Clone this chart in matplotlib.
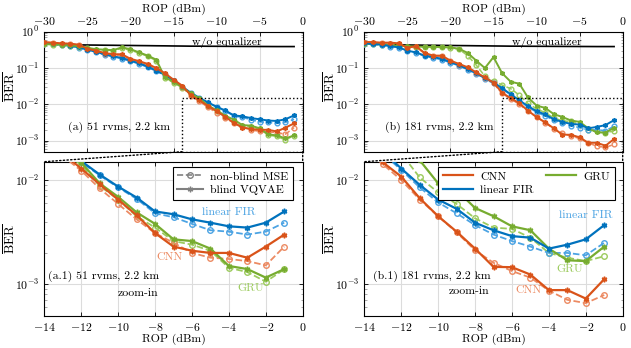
import matplotlib
matplotlib.use("Agg")
import matplotlib.pyplot as plt
from matplotlib.lines import Line2D
from matplotlib.patches import Rectangle, ConnectionPatch

plt.rcParams["font.family"] = "serif"
plt.rcParams["font.serif"] = ["cmr10"]
plt.rcParams["mathtext.fontset"] = "cm"
plt.rcParams["axes.formatter.use_mathtext"] = True
plt.rcParams["axes.unicode_minus"] = False
plt.rcParams["font.size"] = 8.5

# ROP points (dBm)
rop = list(range(-30, 0))

# ---- (a) 51 rvms, 2.2 km ----
wo_eq_a = [0.47, 0.46, 0.45, 0.44, 0.435, 0.43, 0.428, 0.425, 0.423, 0.42,
           0.418, 0.415, 0.413, 0.41, 0.408, 0.405, 0.403, 0.40, 0.40, 0.398,
           0.397, 0.396, 0.395, 0.394, 0.393, 0.392, 0.391, 0.39, 0.39, 0.39]
cnn_blind_a = [0.52, 0.50, 0.48, 0.47, 0.44, 0.34, 0.30, 0.26, 0.24, 0.24,
               0.18, 0.155, 0.13, 0.10, 0.072, 0.048, 0.033, 0.018, 0.0129, 0.0091,
               0.0065, 0.0046, 0.0031, 0.0023, 0.0021, 0.0020, 0.0020, 0.0018, 0.0023, 0.0030]
cnn_mse_a = [0.50, 0.48, 0.46, 0.45, 0.42, 0.33, 0.29, 0.25, 0.23, 0.22,
             0.17, 0.145, 0.12, 0.095, 0.068, 0.045, 0.031, 0.017, 0.0123, 0.0083,
             0.0059, 0.0042, 0.0031, 0.0025, 0.0020, 0.0018, 0.00175, 0.00167, 0.00152, 0.0023]
fir_blind_a = [0.49, 0.46, 0.44, 0.41, 0.37, 0.32, 0.28, 0.24, 0.21, 0.19,
               0.16, 0.135, 0.11, 0.085, 0.065, 0.046, 0.031, 0.021, 0.0152, 0.0113,
               0.00865, 0.0068, 0.0050, 0.0047, 0.0042, 0.0039, 0.0036, 0.0035, 0.0039, 0.0050]
fir_mse_a = [0.47, 0.45, 0.43, 0.40, 0.36, 0.31, 0.27, 0.23, 0.205, 0.18,
             0.155, 0.13, 0.105, 0.082, 0.063, 0.045, 0.030, 0.020, 0.0148, 0.0111,
             0.0085, 0.0066, 0.0048, 0.0044, 0.0038, 0.0033, 0.0032, 0.0030, 0.0032, 0.0039]
gru_blind_a = [0.46, 0.45, 0.44, 0.42, 0.40, 0.36, 0.33, 0.32, 0.31, 0.37,
               0.33, 0.27, 0.22, 0.17, 0.055, 0.042, 0.030, 0.020, 0.0147, 0.0093,
               0.0069, 0.0049, 0.0038, 0.0027, 0.0026, 0.0022, 0.0015, 0.0014, 0.00116, 0.0014]
gru_mse_a = [0.45, 0.44, 0.43, 0.41, 0.39, 0.35, 0.32, 0.31, 0.30, 0.35,
             0.31, 0.26, 0.21, 0.16, 0.052, 0.040, 0.029, 0.019, 0.0139, 0.0088,
             0.0065, 0.0045, 0.0035, 0.0026, 0.0024, 0.0021, 0.00144, 0.00131, 0.00106, 0.00139]

# ---- (b) 181 rvms, 2.2 km ----
wo_eq_b = [0.47, 0.46, 0.45, 0.44, 0.435, 0.43, 0.428, 0.425, 0.423, 0.42,
           0.418, 0.415, 0.413, 0.41, 0.408, 0.405, 0.403, 0.40, 0.40, 0.398,
           0.397, 0.396, 0.395, 0.394, 0.393, 0.392, 0.391, 0.39, 0.39, 0.39]
cnn_blind_b = [0.52, 0.52, 0.50, 0.50, 0.48, 0.36, 0.40, 0.26, 0.22, 0.22,
               0.16, 0.13, 0.105, 0.076, 0.055, 0.040, 0.021, 0.0148, 0.0108, 0.0067,
               0.0045, 0.0032, 0.0022, 0.00147, 0.00146, 0.00124, 0.00088, 0.00088, 0.00073, 0.00112]
cnn_mse_b = [0.50, 0.49, 0.48, 0.47, 0.45, 0.34, 0.38, 0.25, 0.21, 0.21,
             0.155, 0.125, 0.10, 0.072, 0.052, 0.038, 0.020, 0.0142, 0.0100, 0.0065,
             0.0045, 0.00315, 0.00212, 0.00161, 0.00134, 0.00116, 0.00087, 0.00071, 0.00066, 0.00079]
fir_blind_b = [0.48, 0.46, 0.44, 0.40, 0.37, 0.30, 0.27, 0.22, 0.20, 0.18,
               0.145, 0.12, 0.094, 0.072, 0.053, 0.040, 0.028, 0.019, 0.0129, 0.0090,
               0.0065, 0.0053, 0.0039, 0.0033, 0.0029, 0.0028, 0.0022, 0.0024, 0.0027, 0.0037]
fir_mse_b = [0.47, 0.45, 0.43, 0.39, 0.36, 0.29, 0.26, 0.21, 0.19, 0.17,
             0.14, 0.115, 0.09, 0.069, 0.050, 0.038, 0.027, 0.018, 0.0125, 0.0085,
             0.0061, 0.0048, 0.0037, 0.0030, 0.0026, 0.0023, 0.0020, 0.0020, 0.0019, 0.0025]
gru_blind_b = [0.47, 0.46, 0.45, 0.43, 0.41, 0.40, 0.39, 0.385, 0.38, 0.38,
               0.37, 0.34, 0.26, 0.16, 0.10, 0.20, 0.072, 0.042, 0.037, 0.0155,
               0.0093, 0.0080, 0.0054, 0.0045, 0.0036, 0.0033, 0.0022, 0.0017, 0.00167, 0.0023]
gru_mse_b = [0.46, 0.45, 0.44, 0.42, 0.40, 0.39, 0.38, 0.375, 0.37, 0.37,
             0.36, 0.33, 0.22, 0.12, 0.06, 0.045, 0.034, 0.027, 0.018, 0.0106,
             0.0076, 0.0059, 0.0043, 0.0035, 0.0034, 0.0028, 0.0020, 0.0018, 0.00167, 0.00186]

C_CNN, C_CNN_L = "#D95319", "#EC8A62"
C_FIR, C_FIR_L = "#0072BD", "#4BA3E3"
C_GRU, C_GRU_L = "#77AC30", "#9CCB5E"
GRID = "#dcdcdc"
STAR = (6, 2, 0)

TOP_YLIM = (5e-4, 1.0)
ZOOM_XLIM = (-14, 0)
ZOOM_YLIM = (5e-4, 1.5e-2)
BER_LABEL = r"$\overline{\mathrm{BER}}$"


def style_axes(ax):
    ax.set_yscale("log")
    ax.grid(True, which="major", color=GRID, lw=0.8)
    ax.set_axisbelow(True)
    ax.tick_params(which="both", direction="in", top=True, right=True,
                   labelsize=8.5, width=0.6)
    ax.tick_params(which="major", length=3)
    ax.tick_params(which="minor", length=1.8, color="#999999")
    for s in ax.spines.values():
        s.set_linewidth(0.8)


def draw_series(ax, series, ms, lw):
    for mse, blind, cl, cd in series:
        ax.plot(rop, mse, ls="--", color=cl, lw=lw * 0.8, marker="o", ms=ms,
                mfc="none", mew=1.0, zorder=3)
        ax.plot(rop, blind, ls="-", color=cd, lw=lw, marker=STAR, ms=ms,
                mew=1.1, zorder=4)


def top_panel(ax, wo_eq, series, label):
    style_axes(ax)
    ax.plot(rop, wo_eq, color="black", lw=1.2, zorder=2)
    draw_series(ax, series, ms=3.4, lw=1.4)
    ax.set_xlim(-30, 0)
    ax.set_ylim(*TOP_YLIM)
    ax.set_xticks(range(-30, 1, 5))
    ax.xaxis.tick_top()
    ax.xaxis.set_label_position("top")
    ax.tick_params(which="both", bottom=True)
    ax.set_xlabel("ROP (dBm)", labelpad=2)
    ax.set_ylabel(BER_LABEL, fontsize=9.5)
    ax.yaxis.set_label_coords(-0.102, 0.54)
    ax.text(-8.8, 0.51, "w/o equalizer", ha="center", va="center")
    ax.text(-21.3, 2.4e-3, label, ha="center", va="center")
    ax.add_patch(Rectangle((ZOOM_XLIM[0], ZOOM_YLIM[0]),
                           ZOOM_XLIM[1] - ZOOM_XLIM[0], ZOOM_YLIM[1] - ZOOM_YLIM[0],
                           fill=False, ls=":", lw=1.0, color="black", zorder=5))


def zoom_panel(ax, series):
    style_axes(ax)
    draw_series(ax, series, ms=4.0, lw=1.6)
    ax.set_xlim(*ZOOM_XLIM)
    ax.set_ylim(*ZOOM_YLIM)
    ax.set_xticks(range(-14, 1, 2))
    ax.set_xlabel("ROP (dBm)", labelpad=1)
    ax.set_ylabel(BER_LABEL, fontsize=9.5)
    ax.yaxis.set_label_coords(-0.102, 0.5)


fig = plt.figure(figsize=(6.31, 3.48), dpi=100)
W, H = 631, 348


def px_axes(x0, y0, x1, y1):
    return fig.add_axes([x0 / W, 1 - y1 / H, (x1 - x0) / W, (y1 - y0) / H])


ax_a = px_axes(44.3, 31.7, 302.7, 151.7)
ax_a1 = px_axes(44.3, 161.7, 302.7, 315.7)
ax_b = px_axes(364.3, 31.7, 622.7, 151.7)
ax_b1 = px_axes(364.3, 161.7, 622.7, 315.7)

series_a = [(fir_mse_a, fir_blind_a, C_FIR_L, C_FIR),
            (gru_mse_a, gru_blind_a, C_GRU_L, C_GRU),
            (cnn_mse_a, cnn_blind_a, C_CNN_L, C_CNN)]
series_b = [(gru_mse_b, gru_blind_b, C_GRU_L, C_GRU),
            (fir_mse_b, fir_blind_b, C_FIR_L, C_FIR),
            (cnn_mse_b, cnn_blind_b, C_CNN_L, C_CNN)]

top_panel(ax_a, wo_eq_a, series_a, "(a) 51 rvms, 2.2 km")
top_panel(ax_b, wo_eq_b, series_b, "(b) 181 rvms, 2.2 km")
zoom_panel(ax_a1, series_a)
zoom_panel(ax_b1, series_b)

# zoom-in annotations (a.1)
ax_a1.text(-10.8, 1.18e-3, "(a.1) 51 rvms, 2.2 km", ha="center", va="center")
ax_a1.text(-8.9, 8.2e-4, "zoom-in", ha="center", va="center")
ax_a1.text(-3.98, 4.9e-3, "linear FIR", color=C_FIR_L, ha="center", va="center")
ax_a1.text(-7.2, 1.8e-3, "CNN", color=C_CNN_L, ha="center", va="center")
ax_a1.text(-2.84, 9.1e-4, "GRU", color=C_GRU_L, ha="center", va="center")

# zoom-in annotations (b.1)
ax_b1.text(-10.35, 1.18e-3, "(b.1) 181 rvms, 2.2 km", ha="center", va="center")
ax_b1.text(-8.3, 8.5e-4, "zoom-in", ha="center", va="center")
ax_b1.text(-2.0, 4.6e-3, "linear FIR", color=C_FIR_L, ha="center", va="center")
ax_b1.text(-2.86, 1.41e-3, "GRU", color=C_GRU_L, ha="center", va="center")
ax_b1.text(-5.08, 8.8e-4, "CNN", color=C_CNN_L, ha="center", va="center")

# legends
gray = "#808080"
h_type = [Line2D([], [], color=gray, ls="--", marker="o", mfc="none", ms=4.0, lw=1.2),
          Line2D([], [], color=gray, ls="-", marker=STAR, ms=4.0, lw=1.5)]
ax_a1.legend(h_type, ["non-blind MSE", "blind VQVAE"], loc="upper right",
             bbox_to_anchor=(0.964, 0.968), borderaxespad=0, fancybox=False,
             framealpha=1, edgecolor="black", handlelength=2.2, fontsize=8.5,
             borderpad=0.4, labelspacing=0.3, handletextpad=0.6)

h_mod = [Line2D([], [], color=C_CNN, lw=1.6),
         Line2D([], [], color=C_FIR, lw=1.6),
         Line2D([], [], color=C_GRU, lw=1.6)]
ax_b1.legend(h_mod, ["CNN", "linear FIR", "GRU"], loc="upper right", ncol=2,
             bbox_to_anchor=(0.970, 0.968), borderaxespad=0, fancybox=False,
             framealpha=1, edgecolor="black", handlelength=2.6, fontsize=8.5,
             borderpad=0.4, labelspacing=0.3, columnspacing=1.0, handletextpad=0.6)

for legend_ax in (ax_a1, ax_b1):
    legend_ax.get_legend().get_frame().set_linewidth(0.8)

# dotted connectors between zoom box and zoom panels
for top, bot in ((ax_a, ax_a1), (ax_b, ax_b1)):
    for xd, xf in ((ZOOM_XLIM[0], 0), (ZOOM_XLIM[1], 1)):
        con = ConnectionPatch(xyA=(xd, TOP_YLIM[0]), coordsA=top.transData,
                              xyB=(xf, 1), coordsB=bot.transAxes,
                              ls=":", lw=1.0, color="black")
        fig.add_artist(con)

fig.savefig("out.png", dpi=100)
plt.close(fig)
print("Saved: out.png")
